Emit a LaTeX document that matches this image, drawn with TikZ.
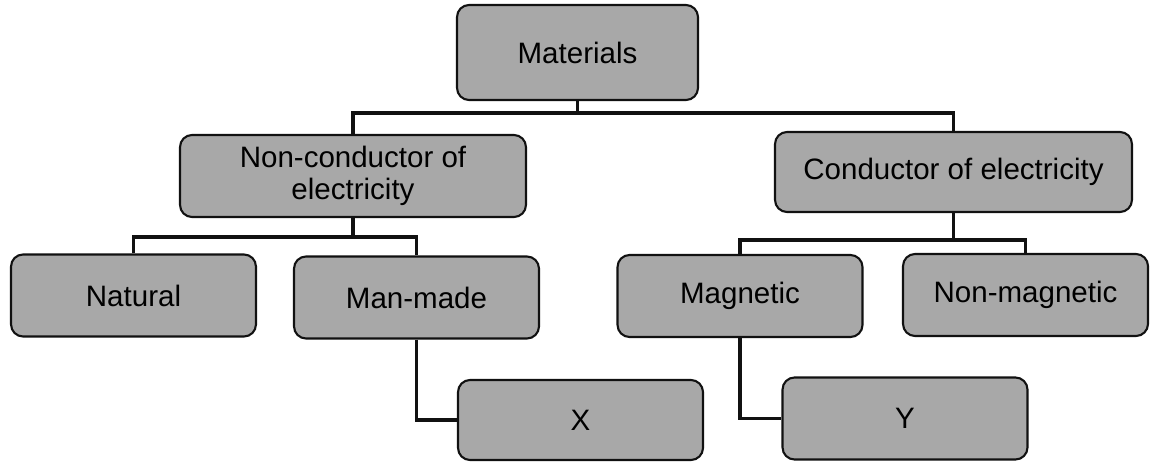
\documentclass[tikz,border=0pt]{standalone}
\usepackage{fontspec}
\setmainfont{Liberation Sans}
\usepackage{xcolor}
\usepackage{tikz}
\usetikzlibrary{calc}
\definecolor{ink}{HTML}{111111}
\definecolor{boxfill}{HTML}{A8A8A8}
\tikzset{
  box/.style={draw=ink, line width=1.2pt, rounded corners=0.24cm, fill=boxfill,
    minimum width=4.9cm, minimum height=1.64cm, inner sep=2pt, align=center,
    font=\fontsize{16.8}{18.5}\selectfont},
  link/.style={draw=ink, line width=2pt},
}

\begin{document}
\begin{tikzpicture}[x=0.02cm, y=-0.02cm]
\useasboundingbox (0,0) rectangle (1150,463);
\coordinate (busA) at (0,113);
\coordinate (busB) at (0,237);
\coordinate (busC) at (0,240);
% top of the tree
\node[box, minimum width=4.82cm, minimum height=1.9cm] (mat) at (577.5,52.5) {Materials};
\node[box, minimum width=6.92cm] (ncond) at (353,176) {Non-conductor of\\electricity};
\node[box, minimum width=7.14cm, minimum height=1.6cm] (cond) at (953.5,172) {Conductor of electricity};
% second row
\node[box] (nat) at (133.5,295.5) {Natural};
\node[box] (man) at (416.5,297.5) {Man-made};
\node[box] (mag) at (740,296) {Magnetic};
\node[box] (nmag) at (1025.5,295) {Non-magnetic};
% unknowns
\node[box, minimum height=1.6cm] (xbox) at (580.5,420) {X};
\node[box] (ybox) at (905,418.5) {Y};
% connectors
\draw[link] (mat.south) -- (mat.south |- busA);
\draw[link] (ncond.north) |- (mat.south |- busA) -| (cond.north);
\draw[link] (ncond.south) -- (ncond.south |- busB);
\draw[link] (nat.north) |- (ncond.south |- busB) -| (man.north);
\draw[link] (cond.south) -- (cond.south |- busC);
\draw[link] (mag.north) |- (cond.south |- busC) -| (nmag.north);
\draw[link] (man.south) |- (xbox.west);
\draw[link] (mag.south) |- (ybox.west);
\end{tikzpicture}
\end{document}
